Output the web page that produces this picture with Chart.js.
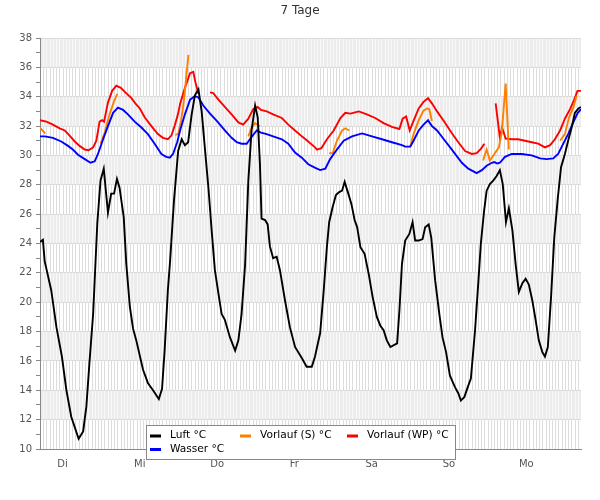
<!DOCTYPE html>
<html>
<head>
<meta charset="utf-8">
<script src="https://cdn.jsdelivr.net/npm/chart.js@4.4.1/dist/chart.umd.min.js"></script>
<style>
  html, body { margin: 0; padding: 0; background: #fff; }
</style>
</head>
<body>
<canvas id="chart" width="600" height="500"></canvas>
<script>
// x = hours since start of the 7-day window, y = degrees C
const dayLabels = ['Di', 'Mi', 'Do', 'Fr', 'Sa', 'So', 'Mo'];
const dayStart = 7; // hour where the first day label sits

const luftHours = [0,0.9,1.45,3.5,5.1,6.8,8.2,9.7,12.0,13.4,14.4,15.4,16.5,17.8,18.8,19.8,21.1,22.1,23.0,23.9,
  24.7,26.0,26.8,27.9,28.9,29.9,32.0,33.5,35.1,36.9,37.9,38.7,39.7,40.4,41.6,42.9,44.0,45.0,46.0,47.1,
  48.1,49.2,50.2,51.2,52.3,53.3,54.3,55.4,56.4,57.4,59.0,60.6,61.6,62.6,63.7,64.7,65.7,66.8,67.6,68.3,
  68.8,69.9,70.7,71.4,72.4,73.5,74.5,76.1,77.6,79.2,81.3,82.8,84.4,85.4,87.0,88.1,89.1,89.8,90.9,91.9,
  92.9,93.8,94.6,95.6,96.7,97.7,98.5,99.5,100.8,102.1,103.3,104.6,105.7,106.7,107.7,108.8,110.9,111.6,112.4,113.4,
  114.7,115.7,116.5,117.6,118.8,119.6,120.7,121.5,122.7,124.0,125.0,126.1,127.3,128.9,129.9,130.7,131.8,132.8,133.8,135.1,
  136.1,136.9,137.9,138.7,139.7,140.8,141.8,142.8,143.7,144.7,145.6,146.7,147.7,148.7,149.8,150.8,151.8,152.9,153.9,154.9,
  156.0,156.8,157.7,158.7,159.7,160.8,161.8,163.0,164.0,165.1,166.1,167.2,168.0];
const luftTemp = [24.1,24.25,22.8,20.8,18.3,16.3,14.0,12.2,10.7,11.2,12.9,16.0,19.2,25.4,28.3,29.1,26.1,27.4,27.4,28.4,
  27.8,25.8,22.6,19.7,18.2,17.4,15.4,14.5,14.0,13.4,14.1,16.7,20.8,22.8,26.9,30.3,31.1,30.7,30.9,32.8,
  34.1,34.5,33.0,30.5,27.8,24.9,22.2,20.6,19.2,18.8,17.6,16.7,17.4,19.2,22.6,28.3,31.7,33.4,32.6,29.4,
  25.7,25.6,25.3,23.8,23.0,23.1,22.2,20.1,18.3,16.95,16.2,15.6,15.6,16.3,17.9,20.8,23.8,25.45,26.5,27.3,
  27.5,27.6,28.2,27.5,26.7,25.6,25.1,23.75,23.3,21.9,20.35,19.0,18.4,18.1,17.4,16.95,17.2,19.4,22.6,24.2,
  24.65,25.45,24.2,24.2,24.3,25.1,25.3,24.4,21.5,19.2,17.6,16.6,15.0,14.2,13.8,13.3,13.55,14.2,14.8,18.1,
  21.3,24.0,26.2,27.6,28.05,28.3,28.6,29.0,28.05,25.45,26.4,24.9,22.6,20.7,21.3,21.6,21.2,20.1,18.8,17.4,
  16.6,16.3,16.95,20.35,24.4,27.1,29.2,30.1,31.0,31.9,32.9,33.2,33.3];

const wasserHours = [0,1.5,4.0,6.6,8.7,10.2,11.8,13.9,15.7,17.0,18.0,19.6,21.1,22.7,24.2,25.8,27.3,29.4,31.5,33.5,
  35.6,37.7,39.2,40.3,41.3,42.6,43.5,45.0,46.6,48.1,49.2,50.7,52.8,54.9,57.4,59.5,61.1,62.6,64.2,65.5,
  67.3,68.6,70.4,72.4,75.1,77.1,79.2,81.3,83.3,85.5,87.0,88.6,90.1,92.2,94.3,96.9,100.0,103.1,106.2,109.3,
  112.4,113.4,115.0,116.0,117.6,119.1,120.5,121.7,123.3,125.4,127.9,131.0,133.0,135.6,137.2,138.7,140.3,141.1,142.0,142.8,
  144.4,146.5,149.6,152.7,155.3,157.3,159.4,160.9,162.5,164.0,165.6,167.0,168.0];
const wasserTemp = [31.3,31.3,31.2,30.95,30.65,30.4,30.05,29.75,29.5,29.6,30.1,31.1,32.0,32.9,33.25,33.1,32.8,32.3,31.9,31.45,
  30.8,30.1,29.9,29.85,30.1,30.9,31.7,32.8,33.8,34.05,33.95,33.4,32.85,32.35,31.7,31.2,30.9,30.8,30.8,31.2,
  31.7,31.55,31.45,31.3,31.1,30.8,30.2,29.85,29.4,29.15,29.0,29.1,29.75,30.4,31.0,31.3,31.5,31.3,31.1,30.9,
  30.7,30.6,30.6,31.0,31.7,32.1,32.4,32.0,31.7,31.1,30.4,29.5,29.1,28.8,29.0,29.3,29.5,29.55,29.45,29.5,
  29.9,30.1,30.1,30.0,29.8,29.75,29.8,30.1,30.8,31.45,32.25,32.9,33.15];

// null = no reading (line breaks)
const solarHours = [0,1.6,10,18.8,20.1,21.6,23.0,24.0,33,42.0,42.9,43.8,44.5,45.0,45.6,46.1,55,
  64.7,65.7,66.8,67.8,68.3,80,89.8,90.9,92.2,93.8,94.8,96.0,105,
  115.0,116.0,117.6,119.1,120.2,120.9,121.7,130,137.6,138.7,139.7,141.1,142.5,143.4,144.6,145.6,155,
  161.5,163.0,164.3,165.6,166.6];
const solarTemp = [31.9,31.5,null,30.8,31.55,32.8,33.7,34.2,null,31.4,31.45,32.35,33.4,34.4,35.75,36.85,null,
  31.3,31.9,32.2,32.05,32.0,null,30.15,30.15,31.0,31.7,31.85,31.7,null,
  30.65,31.45,32.4,33.05,33.2,33.15,32.35,null,29.65,30.4,29.65,30.1,30.55,31.55,34.9,30.4,null,
  31.0,31.45,32.6,33.25,34.05];

const wpHours = [0,2.0,4.0,6.1,7.7,9.2,10.8,12.3,13.9,15.1,16.5,17.5,18.5,19.3,19.9,21.1,22.4,23.7,25.1,26.5,
  28.4,29.6,31.0,32.5,34.6,36.6,38.2,39.7,40.8,41.8,42.9,43.5,45.0,46.6,47.6,48.3,49.2,51.0,52.8,53.8,
  55.4,57.4,59.5,61.6,63.1,64.7,66.2,67.6,68.6,70.4,72.4,75.1,77.1,79.2,81.3,83.3,85.4,86.0,87.4,89.1,
  91.2,93.3,94.8,96.4,99.0,101.5,104.1,106.7,109.3,111.6,112.6,113.7,114.8,116.0,117.6,119.1,120.5,121.7,123.3,125.4,
  127.8,129.9,132.0,134.1,135.6,136.9,138.0,140.0,141.5,142.8,143.5,144.6,146.5,148.5,150.6,152.7,154.7,156.8,158.4,159.9,
  161.5,163.0,164.6,165.9,166.9,168.0];
const wpTemp = [32.4,32.3,32.1,31.85,31.7,31.35,30.95,30.65,30.4,30.35,30.55,31.0,32.3,32.4,32.3,33.6,34.4,34.75,34.6,34.3,
  33.9,33.55,33.2,32.6,32.0,31.45,31.2,31.1,31.35,32.0,32.85,33.5,34.6,35.6,35.7,34.95,34.2,null,34.3,34.25,
  33.8,33.3,32.8,32.25,32.1,32.5,33.15,33.3,33.1,33.0,32.8,32.55,32.1,31.7,31.3,30.95,30.55,30.4,30.5,31.1,
  31.7,32.55,32.9,32.85,33.0,32.8,32.55,32.2,31.95,31.8,32.5,32.65,31.7,32.35,33.2,33.65,33.9,33.55,33.0,32.35,
  31.55,30.9,30.3,30.1,30.15,30.45,30.8,null,33.55,31.2,31.9,31.15,31.1,31.1,31.0,30.9,30.8,30.55,30.7,31.1,
  31.7,32.5,33.15,33.8,34.4,34.4];


function toPoints(hours, temps) {
  return hours.map((h, i) => ({ x: h, y: temps[i] }));
}

// grey/white 2-degree bands and the hourly vertical lines
const bandPlugin = {
  id: 'bands',
  beforeDraw(chart) {
    const { ctx, chartArea: a, scales: { x, y } } = chart;
    ctx.save();
    for (let v = 10; v < 38; v += 2) {
      const top = y.getPixelForValue(v + 2);
      const bot = y.getPixelForValue(v);
      const grey = v % 4 === 0;
      ctx.fillStyle = grey ? '#ececec' : '#ffffff';
      ctx.fillRect(a.left, top, a.right - a.left, bot - top);
      ctx.strokeStyle = grey ? '#f8f8f8' : '#dddddd';
      ctx.lineWidth = 1;
      ctx.beginPath();
      for (let h = 1; h < 168; h++) {
        const px = Math.round(x.getPixelForValue(h)) + 0.5;
        ctx.moveTo(px, top);
        ctx.lineTo(px, bot);
      }
      ctx.stroke();
    }
    ctx.restore();
  }
};

// boxed legend sitting on the bottom of the plot
const legendPlugin = {
  id: 'boxLegend',
  afterDraw(chart) {
    const ctx = chart.ctx;
    const bx = 146, by = 425, bw = 309, bh = 34;
    const order = [0, 2, 3, 1];
    const colX = [4, 94, 201];
    const rowY = [10.5, 24];
    ctx.save();
    ctx.fillStyle = '#fff';
    ctx.fillRect(bx, by, bw, bh);
    ctx.strokeStyle = '#888';
    ctx.lineWidth = 1;
    ctx.strokeRect(bx + 0.5, by + 0.5, bw, bh);
    ctx.font = '10.6px "DejaVu Sans"';
    ctx.textBaseline = 'middle';
    order.forEach((di, k) => {
      const ds = chart.data.datasets[di];
      const cx = bx + colX[k % 3];
      const cy = by + rowY[Math.floor(k / 3)];
      ctx.fillStyle = ds.borderColor;
      ctx.fillRect(cx, cy - 1, 11, 3);
      ctx.fillStyle = '#000';
      ctx.fillText(ds.label, cx + 20, cy);
    });
    ctx.restore();
  }
};

Chart.defaults.font.family = '"DejaVu Sans"';

new Chart(document.getElementById('chart'), {
  type: 'line',
  data: {
    datasets: [
      { label: 'Luft °C', data: toPoints(luftHours, luftTemp), borderColor: '#000000' },
      { label: 'Wasser °C', data: toPoints(wasserHours, wasserTemp), borderColor: '#0000ff' },
      { label: 'Vorlauf (S) °C', data: toPoints(solarHours, solarTemp), borderColor: '#ff8000' },
      { label: 'Vorlauf (WP) °C', data: toPoints(wpHours, wpTemp), borderColor: '#ff0000' }
    ]
  },
  options: {
    responsive: false,
    animation: false,
    layout: { padding: 0 },
    elements: {
      point: { radius: 0 },
      line: { borderWidth: 1.9, tension: 0, fill: false }
    },
    scales: {
      x: {
        type: 'linear',
        min: 0,
        max: 168,
        grid: { display: false, drawTicks: false },
        border: { display: true, color: '#888' },
        afterBuildTicks: s => { s.ticks = dayLabels.map((d, i) => ({ value: dayStart + 24 * i })); },
        ticks: {
          autoSkip: false,
          maxRotation: 0,
          padding: 9,
          color: '#555',
          font: { size: 10 },
          callback: v => dayLabels[(v - dayStart) / 24] ?? ''
        },
        afterFit: s => { s.height = 51; }
      },
      y: {
        min: 10,
        max: 38,
        afterBuildTicks: s => {
          const t = [];
          for (let v = 10; v <= 38; v++) t.push({ value: v });
          s.ticks = t;
        },
        grid: {
          color: c => (c.tick && c.tick.value % 2) ? 'rgba(0,0,0,0)' : '#dcdcdc',
          tickColor: '#888',
          tickLength: 4
        },
        border: { color: '#888' },
        ticks: {
          autoSkip: false,
          padding: 4,
          color: '#555',
          font: { size: 10 },
          callback: v => v % 2 === 0 ? v : ''
        },
        afterFit: s => { s.width = 40; }
      },
      // empty right-hand strip so the title stays centred on the canvas
      yRight: {
        position: 'right',
        display: true,
        grid: { display: false, drawTicks: false },
        border: { display: false },
        ticks: { display: false },
        afterFit: s => { s.width = 19; }
      }
    },
    plugins: {
      legend: { display: false },
      tooltip: { enabled: false },
      title: {
        display: true,
        text: '7 Tage',
        color: '#333',
        font: { size: 12, weight: 'normal' },
        padding: { top: 4, bottom: 19.6 }
      }
    }
  },
  plugins: [bandPlugin, legendPlugin]
});
</script>
</body>
</html>
